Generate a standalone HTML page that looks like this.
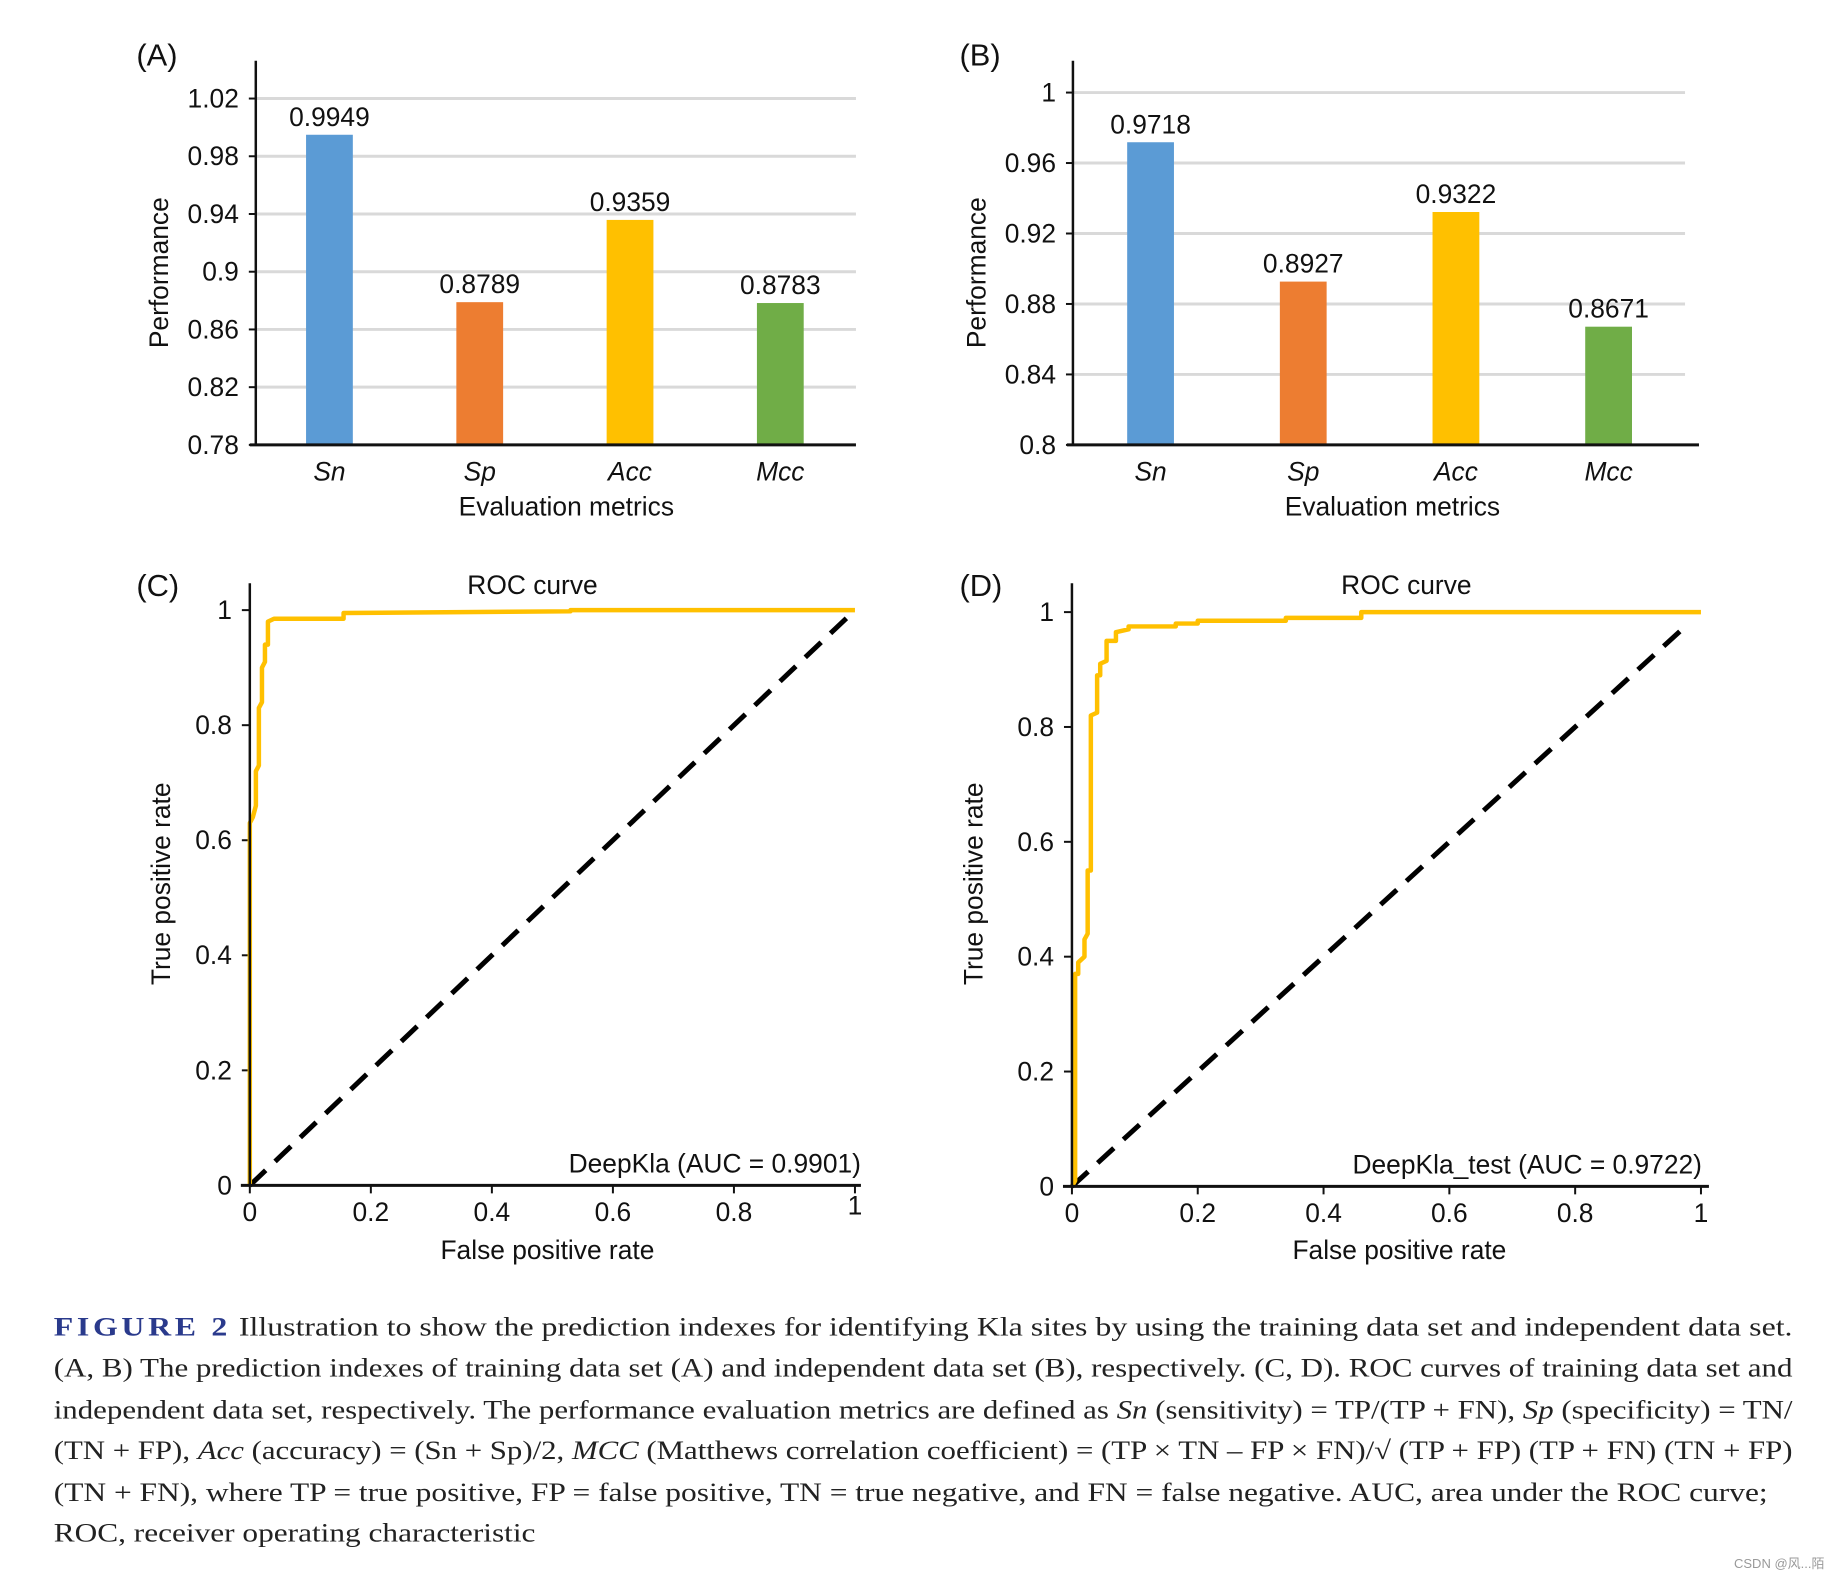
<!DOCTYPE html>
<html><head><meta charset="utf-8">
<style>
html,body{margin:0;padding:0;background:#fff;}
svg{display:block;}
text{font-family:"Liberation Sans",Arial,sans-serif;fill:#111;}
.cap{font-family:"Liberation Serif","Noto Serif CJK SC",serif;font-size:26px;fill:#222;}
</style></head>
<body>
<svg id="fig" width="1840" height="1572" viewBox="0 0 1840 1572" xmlns="http://www.w3.org/2000/svg">
<g transform="scale(0.9953)">
<g id="layer"></g>
<g>
<text class="cap" x="54" y="1342" textLength="1747" lengthAdjust="spacingAndGlyphs"><tspan fill="#2a3a8c" font-weight="bold" letter-spacing="3">FIGURE 2</tspan>   Illustration to show the prediction indexes for identifying Kla sites by using the training data set and independent data set.</text>
<text class="cap" x="54" y="1383" textLength="1747" lengthAdjust="spacingAndGlyphs">(A, B) The prediction indexes of training data set (A) and independent data set (B), respectively. (C, D). ROC curves of training data set and</text>
<text class="cap" x="54" y="1425" textLength="1747" lengthAdjust="spacingAndGlyphs">independent data set, respectively. The performance evaluation metrics are defined as <tspan font-style="italic">Sn</tspan> (sensitivity) = TP/(TP + FN), <tspan font-style="italic">Sp</tspan> (specificity) = TN/</text>
<text class="cap" x="54" y="1466" textLength="1747" lengthAdjust="spacingAndGlyphs">(TN + FP), <tspan font-style="italic">Acc</tspan> (accuracy) = (Sn + Sp)/2, <tspan font-style="italic">MCC</tspan> (Matthews correlation coefficient) = (TP × TN – FP × FN)/√ (TP + FP) (TP + FN) (TN + FP)</text>
<text class="cap" x="54" y="1508" textLength="1722" lengthAdjust="spacingAndGlyphs">(TN + FN), where TP = true positive, FP = false positive, TN = true negative, and FN = false negative. AUC, area under the ROC curve;</text>
<text class="cap" x="54" y="1549" textLength="484" lengthAdjust="spacingAndGlyphs">ROC, receiver operating characteristic</text>
</g>
</g>
<text x="1734" y="1568" font-size="13" style="fill:#999;font-family:'Liberation Sans','Noto Sans CJK SC',sans-serif">CSDN @风...陌</text>
</svg>
<script>
// Panel A data
const catsA = ["Sn","Sp","Acc","Mcc"];
const valsA = [0.9949,0.8789,0.9359,0.8783];
const labelsA = ["0.9949","0.8789","0.9359","0.8783"];
const ticksA = [0.78,0.82,0.86,0.9,0.94,0.98,1.02];
const tickLabA = ["0.78","0.82","0.86","0.9","0.94","0.98","1.02"];
// Panel B data
const catsB = ["Sn","Sp","Acc","Mcc"];
const valsB = [0.9718,0.8927,0.9322,0.8671];
const labelsB = ["0.9718","0.8927","0.9322","0.8671"];
const ticksB = [0.8,0.84,0.88,0.92,0.96,1];
const tickLabB = ["0.8","0.84","0.88","0.92","0.96","1"];
const barColors = ["#5b9bd5","#ed7d31","#ffc000","#70ad47"];
// Panel C ROC
const fprC = [0,0,0.005,0.01,0.01,0.015,0.015,0.02,0.02,0.025,0.025,0.03,0.03,0.04,0.155,0.155,0.53,0.53,1];
const tprC = [0,0.63,0.64,0.66,0.72,0.73,0.83,0.84,0.90,0.91,0.94,0.94,0.98,0.985,0.985,0.995,0.998,1,1];
// Panel D ROC
const fprD = [0,0.005,0.005,0.01,0.01,0.02,0.02,0.025,0.025,0.03,0.03,0.04,0.04,0.045,0.045,0.055,0.055,0.07,0.07,0.09,0.09,0.165,0.165,0.2,0.2,0.34,0.34,0.46,0.46,1];
const tprD = [0,0.01,0.37,0.37,0.39,0.40,0.43,0.44,0.55,0.55,0.82,0.825,0.89,0.89,0.91,0.915,0.95,0.95,0.965,0.97,0.975,0.975,0.98,0.98,0.985,0.985,0.99,0.99,1,1];
const rocTicks = [0,0.2,0.4,0.6,0.8,1];
const rocTickLab = ["0","0.2","0.4","0.6","0.8","1"];

const NS="http://www.w3.org/2000/svg";
const layer=document.getElementById('layer');
const FS=26.5;
function mk(tag,attrs,parent){const e=document.createElementNS(NS,tag);for(const k in attrs)e.setAttribute(k,attrs[k]);(parent||layer).appendChild(e);return e;}
function txt(s,attrs,parent){const e=mk('text',attrs,parent);e.textContent=s;return e;}

function barPanel(o){
  const g=mk('g',{});
  
  
  const y=v=>o.y0+(v-o.vmin)/(o.vmax-o.vmin)*(o.y1-o.y0);
  o.ticks.forEach((t,i)=>{
    const yy=y(t);
    if(i>0){const gl=mk('line',{x1:o.ax,x2:o.gridEnd,y1:yy,y2:yy,stroke:'#d9d9d9','stroke-width':3},g);
      
      }
    mk('line',{x1:o.ax-7,x2:o.ax,y1:yy,y2:yy,stroke:'#111','stroke-width':2},g);
    const tl=txt(o.tickLab[i],{x:o.ax-17,y:yy+9,'font-size':FS,'text-anchor':'end'},g);
    
    
  });
  o.cats.forEach((c,i)=>{
    const cx=o.cx0+i*o.step;
    const top=y(o.vals[i]);
    const b=mk('rect',{x:cx-23.5,y:top,width:47,height:o.y0-top,fill:barColors[i]},g);
    
    
    const vl=txt(o.labels[i],{x:cx,y:top-9,'font-size':FS,'text-anchor':'middle'},g);
    
    
    const cl=txt(c,{x:cx,y:o.y0+36,'font-size':FS,'text-anchor':'middle','font-style':'italic'},g);
    
    
  });
  mk('line',{x1:o.ax,x2:o.ax,y1:61,y2:o.y0,stroke:'#111','stroke-width':2.5},g);
  mk('line',{x1:o.ax-6,x2:o.axEnd,y1:o.y0,y2:o.y0,stroke:'#111','stroke-width':3},g);
  const xt=txt('Evaluation metrics',{x:o.xtx,y:518,'font-size':FS,'text-anchor':'middle'},g);
  
  
  const yt=txt('Performance',{x:0,y:0,'font-size':FS,'text-anchor':'middle',transform:`translate(${o.ax-88},274) rotate(-90)`},g);
  
  
  const pl=txt(o.letter,{x:o.lx,y:66,'font-size':31},g);
  
  
}
barPanel({name:'bar-chart-a',ax:257,axEnd:860,gridEnd:860,y0:447,y1:99,vmin:0.78,vmax:1.02,ticks:ticksA,tickLab:tickLabA,cats:catsA,vals:valsA,labels:labelsA,cx0:331,step:151,xtx:569,lx:137,letter:'(A)'});
barPanel({name:'bar-chart-b',ax:1078,axEnd:1707,gridEnd:1693,y0:447,y1:93,vmin:0.8,vmax:1,ticks:ticksB,tickLab:tickLabB,cats:catsB,vals:valsB,labels:labelsB,cx0:1156,step:153.4,xtx:1399,lx:964,letter:'(B)'});

function rocPanel(o){
  const g=mk('g',{});
  
  
  const X=v=>o.x0+v*(o.x1-o.x0);
  const Y=v=>o.y0+v*(o.y1-o.y0);
  rocTicks.forEach((t,i)=>{
    mk('line',{x1:o.x0-8,x2:o.x0,y1:Y(t),y2:Y(t),stroke:'#111','stroke-width':2},g);
    const a=txt(rocTickLab[i],{x:o.x0-18,y:Y(t)+9,'font-size':FS,'text-anchor':'end'},g);
    
    
    mk('line',{x1:X(t),x2:X(t),y1:o.y0,y2:o.y0+8,stroke:'#111','stroke-width':2},g);
    const b=txt(rocTickLab[i],{x:X(t),y:o.y0+36-(o.raise1&&t===1?7:0),'font-size':FS,'text-anchor':'middle'},g);
    
    
  });
  const d=mk('line',{x1:X(0),y1:Y(0),x2:X(o.diagEnd),y2:Y(o.diagEnd),stroke:'#000','stroke-width':5,'stroke-dasharray':'22 13'},g);
  
  
  const pts=o.fpr.map((f,i)=>X(f).toFixed(1)+','+Y(o.tpr[i]).toFixed(1)).join(' ');
  const c=mk('polyline',{points:pts,fill:'none',stroke:'#ffc000','stroke-width':4.5,'stroke-linejoin':'round'},g);
  
  
  mk('line',{x1:o.x0,x2:o.x0,y1:586,y2:o.y0,stroke:'#111','stroke-width':2.5},g);
  mk('line',{x1:o.x0-9,x2:o.axEnd,y1:o.y0,y2:o.y0,stroke:'#111','stroke-width':3},g);
  const t=txt('ROC curve',{x:o.titleX,y:597,'font-size':FS,'text-anchor':'middle'},g);
  
  
  const l=txt(o.legend,{x:o.legX,y:o.y0-13,'font-size':FS,'text-anchor':'end'},g);
  
  
  const xt=txt('False positive rate',{x:o.xtx,y:1265,'font-size':FS,'text-anchor':'middle'},g);
  
  
  const yt=txt('True positive rate',{x:0,y:0,'font-size':FS,'text-anchor':'middle',transform:`translate(${o.ytx},888) rotate(-90)`},g);
  
  
  const pl=txt(o.letter,{x:o.lx,y:599,'font-size':31},g);
  
  
}
rocPanel({name:'roc-chart-c',x0:251,x1:859,y0:1191,y1:613,axEnd:865,fpr:fprC,tpr:tprC,diagEnd:0.99,titleX:535,legend:'DeepKla (AUC = 0.9901)',legX:865,xtx:550,ytx:171,lx:137,letter:'(C)',raise1:true});
rocPanel({name:'roc-chart-d',x0:1077,x1:1709,y0:1192,y1:615,axEnd:1717,fpr:fprD,tpr:tprD,diagEnd:0.97,titleX:1413,legend:'DeepKla_test (AUC = 0.9722)',legX:1710,xtx:1406,ytx:987,lx:964,letter:'(D)',raise1:false});
</script>
</body></html>
